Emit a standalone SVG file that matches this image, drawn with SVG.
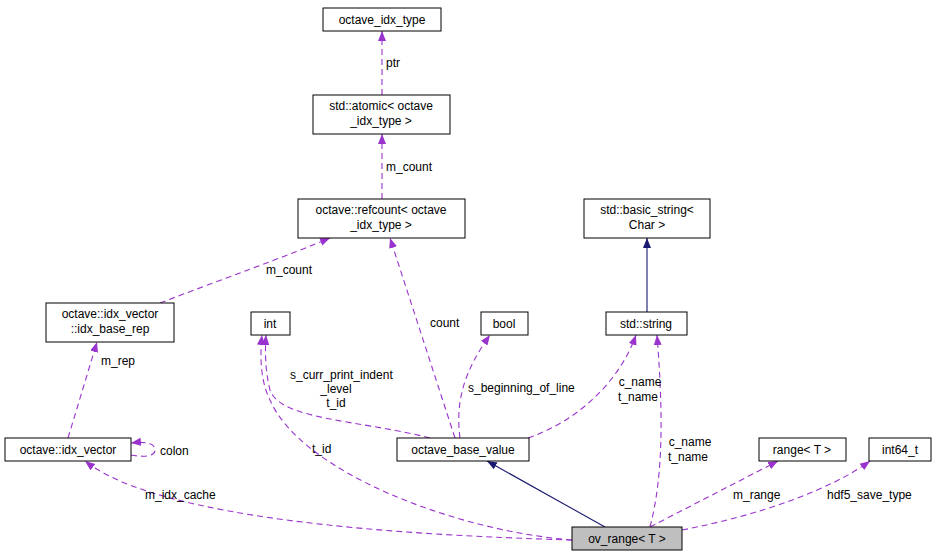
<svg xmlns="http://www.w3.org/2000/svg" width="937" height="560" viewBox="0 0 937 560">
<style>
text{font-family:"Liberation Sans",Arial,sans-serif;font-size:12px;fill:#000}
.n rect{fill:#fff;stroke:#000;stroke-width:1}
.d{fill:none;stroke:#9a32cd;stroke-dasharray:6,4;stroke-width:1.1}
.s{fill:none;stroke:#191970;stroke-width:1.1}
.c{text-anchor:middle}
</style>
<defs>
<marker id="ap" viewBox="0 0 10 10" refX="10" refY="5" markerWidth="10" markerHeight="10" markerUnits="userSpaceOnUse" orient="auto"><path d="M0,1 L10,5 L0,9 Z" fill="#9a32cd"/></marker>
<marker id="an" viewBox="0 0 10 10" refX="10" refY="5" markerWidth="10" markerHeight="10" markerUnits="userSpaceOnUse" orient="auto"><path d="M0,1 L10,5 L0,9 Z" fill="#191970"/></marker>
</defs>
<rect width="937" height="560" fill="#fff"/>
<g id="connectors">
<path class="d" d="M382,95 L382,31" marker-end="url(#ap)"/>
<path class="d" d="M382,199 L382,134" marker-end="url(#ap)"/>
<path class="d" d="M160,303 C220,280 290,255 330,238" marker-end="url(#ap)"/>
<path class="d" d="M455,438 L390,238" marker-end="url(#ap)"/>
<path class="d" d="M430,438 C360,420 280,420 270,390 C265,370 265,350 266,335" marker-end="url(#ap)"/>
<path class="d" d="M460,438 C455,400 465,370 490,335" marker-end="url(#ap)"/>
<path class="d" d="M528,438 C580,420 620,380 636,335" marker-end="url(#ap)"/>
<path class="d" d="M68,438 L97,342" marker-end="url(#ap)"/>
<path class="d" d="M131,455 C148,458 155,455 155,450 C155,444 148,441 131,443" marker-end="url(#ap)"/>
<path class="d" d="M572,540 C400,535 160,520 85,461" marker-end="url(#ap)"/>
<path class="d" d="M572,540 C450,530 300,470 270,400 C260,380 260,355 262,335" marker-end="url(#ap)"/>
<path class="d" d="M650,527 C665,470 662,400 657,335" marker-end="url(#ap)"/>
<path class="d" d="M650,527 L778,461" marker-end="url(#ap)"/>
<path class="d" d="M682,530 C760,515 830,490 870,461" marker-end="url(#ap)"/>
<path class="s" d="M647,312 L647,238" marker-end="url(#an)"/>
<path class="s" d="M605,527 L487,461" marker-end="url(#an)"/>
<text x="386" y="67">ptr</text>
<text x="386" y="171">m_count</text>
<text x="266" y="274">m_count</text>
<text x="430" y="327">count</text>
<text x="290" y="379">s_curr_print_indent</text>
<text x="336" y="393" class="c">_level</text>
<text x="336" y="407" class="c">t_id</text>
<text x="468" y="392">s_beginning_of_line</text>
<text x="640" y="386" class="c">c_name</text>
<text x="638" y="401" class="c">t_name</text>
<text x="101" y="365">m_rep</text>
<text x="160" y="455">colon</text>
<text x="145" y="499">m_idx_cache</text>
<text x="312" y="453">t_id</text>
<text x="690" y="446" class="c">c_name</text>
<text x="688" y="461" class="c">t_name</text>
<text x="733" y="499">m_range</text>
<text x="827" y="499">hdf5_save_type</text>
</g>
<g id="octave_idx_type" class="n"><rect x="323" y="8" width="118" height="23"/><text x="382" y="24" class="c">octave_idx_type</text></g>
<g id="atomic" class="n"><rect x="313" y="95" width="137" height="39"/><text x="381" y="110" class="c">std::atomic&lt; octave</text><text x="381" y="125" class="c">_idx_type &gt;</text></g>
<g id="refcount" class="n"><rect x="298" y="199" width="167" height="39"/><text x="381" y="214" class="c">octave::refcount&lt; octave</text><text x="381" y="229" class="c">_idx_type &gt;</text></g>
<g id="basic_string" class="n"><rect x="584" y="199" width="126" height="39"/><text x="647" y="214" class="c">std::basic_string&lt;</text><text x="647" y="229" class="c">Char &gt;</text></g>
<g id="idx_base_rep" class="n"><rect x="46" y="303" width="128" height="39"/><text x="110" y="318" class="c">octave::idx_vector</text><text x="110" y="333" class="c">::idx_base_rep</text></g>
<g id="int" class="n"><rect x="251" y="312" width="39" height="23"/><text x="270" y="328" class="c">int</text></g>
<g id="bool" class="n"><rect x="481" y="312" width="47" height="23"/><text x="504" y="328" class="c">bool</text></g>
<g id="string" class="n"><rect x="606" y="312" width="81" height="23"/><text x="646" y="328" class="c">std::string</text></g>
<g id="idx_vector" class="n"><rect x="5" y="438" width="126" height="23"/><text x="68" y="454" class="c">octave::idx_vector</text></g>
<g id="octave_base_value" class="n"><rect x="397" y="438" width="132" height="23"/><text x="463" y="454" class="c">octave_base_value</text></g>
<g id="range" class="n"><rect x="759" y="438" width="87" height="23"/><text x="802" y="454" class="c">range&lt; T &gt;</text></g>
<g id="int64_t" class="n"><rect x="869" y="438" width="62" height="23"/><text x="900" y="454" class="c">int64_t</text></g>
<g id="ov_range" class="n"><rect x="572" y="527" width="110" height="23" style="fill:#bfbfbf"/><text x="627" y="543" class="c">ov_range&lt; T &gt;</text></g>
</svg>
